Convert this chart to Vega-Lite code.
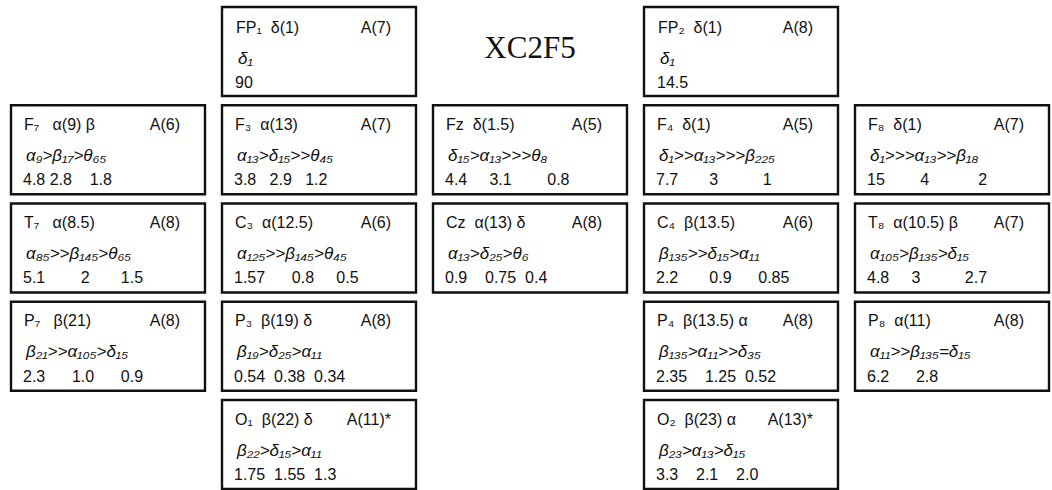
{
  "$schema": "https://vega.github.io/schema/vega-lite/v6.json",
  "width": 1052,
  "height": 490,
  "autosize": {"type": "fit", "contains": "padding"},
  "padding": 0,
  "config": {"view": {"stroke": null}},
  "datasets": {
    "boxes": [
      {"col": 1, "row": 0, "head": "FP₁\u00a0\u00a0δ(1)", "a": "A(7)", "formula": "δ₁", "vals": "90"},
      {"col": 3, "row": 0, "head": "FP₂\u00a0\u00a0δ(1)", "a": "A(8)", "formula": "δ₁", "vals": "14.5"},
      {"col": 0, "row": 1, "head": "F₇\u00a0\u00a0\u00a0α(9) β", "a": "A(6)", "formula": "α₉>β₁₇>θ₆₅", "vals": "4.8 2.8\u00a0\u00a0\u00a0\u00a01.8"},
      {"col": 1, "row": 1, "head": "F₃\u00a0\u00a0α(13)", "a": "A(7)", "formula": "α₁₃>δ₁₅>>θ₄₅", "vals": "3.8\u00a0\u00a0\u00a02.9\u00a0\u00a0\u00a01.2"},
      {"col": 2, "row": 1, "head": "Fz\u00a0\u00a0δ(1.5)", "a": "A(5)", "formula": "δ₁₅>α₁₃>>>θ₈", "vals": "4.4\u00a0\u00a0\u00a0\u00a0\u00a03.1\u00a0\u00a0\u00a0\u00a0\u00a0\u00a0\u00a0\u00a00.8"},
      {"col": 3, "row": 1, "head": "F₄\u00a0\u00a0δ(1)", "a": "A(5)", "formula": "δ₁>>α₁₃>>>β₂₂₅", "vals": "7.7\u00a0\u00a0\u00a0\u00a0\u00a0\u00a0\u00a03\u00a0\u00a0\u00a0\u00a0\u00a0\u00a0\u00a0\u00a0\u00a0\u00a01"},
      {"col": 4, "row": 1, "head": "F₈\u00a0\u00a0δ(1)", "a": "A(7)", "formula": "δ₁>>>α₁₃>>β₁₈", "vals": "15\u00a0\u00a0\u00a0\u00a0\u00a0\u00a0\u00a0\u00a04\u00a0\u00a0\u00a0\u00a0\u00a0\u00a0\u00a0\u00a0\u00a0\u00a0\u00a02"},
      {"col": 0, "row": 2, "head": "T₇\u00a0\u00a0\u00a0α(8.5)", "a": "A(8)", "formula": "α₈₅>>β₁₄₅>θ₆₅", "vals": "5.1\u00a0\u00a0\u00a0\u00a0\u00a0\u00a0\u00a0\u00a02\u00a0\u00a0\u00a0\u00a0\u00a0\u00a0\u00a01.5"},
      {"col": 1, "row": 2, "head": "C₃\u00a0\u00a0α(12.5)", "a": "A(6)", "formula": "α₁₂₅>>β₁₄₅>θ₄₅", "vals": "1.57\u00a0\u00a0\u00a0\u00a0\u00a0\u00a00.8\u00a0\u00a0\u00a0\u00a0\u00a00.5"},
      {"col": 2, "row": 2, "head": "Cz\u00a0\u00a0α(13) δ", "a": "A(8)", "formula": "α₁₃>δ₂₅>θ₆", "vals": "0.9\u00a0\u00a0\u00a0\u00a00.75\u00a0\u00a00.4"},
      {"col": 3, "row": 2, "head": "C₄\u00a0\u00a0β(13.5)", "a": "A(6)", "formula": "β₁₃₅>>δ₁₅>α₁₁", "vals": "2.2\u00a0\u00a0\u00a0\u00a0\u00a0\u00a0\u00a00.9\u00a0\u00a0\u00a0\u00a0\u00a0\u00a00.85"},
      {"col": 4, "row": 2, "head": "T₈\u00a0\u00a0α(10.5) β", "a": "A(7)", "formula": "α₁₀₅>β₁₃₅>δ₁₅", "vals": "4.8\u00a0\u00a0\u00a0\u00a0\u00a03\u00a0\u00a0\u00a0\u00a0\u00a0\u00a0\u00a0\u00a0\u00a0\u00a02.7"},
      {"col": 0, "row": 3, "head": "P₇\u00a0\u00a0\u00a0β(21)", "a": "A(8)", "formula": "β₂₁>>α₁₀₅>δ₁₅", "vals": "2.3\u00a0\u00a0\u00a0\u00a0\u00a0\u00a01.0\u00a0\u00a0\u00a0\u00a0\u00a0\u00a00.9"},
      {"col": 1, "row": 3, "head": "P₃\u00a0\u00a0β(19) δ", "a": "A(8)", "formula": "β₁₉>δ₂₅>α₁₁", "vals": "0.54\u00a0\u00a00.38\u00a0\u00a00.34"},
      {"col": 3, "row": 3, "head": "P₄\u00a0\u00a0β(13.5) α", "a": "A(8)", "formula": "β₁₃₅>α₁₁>>δ₃₅", "vals": "2.35\u00a0\u00a0\u00a0\u00a01.25\u00a0\u00a00.52"},
      {"col": 4, "row": 3, "head": "P₈\u00a0\u00a0α(11)", "a": "A(8)", "formula": "α₁₁>>β₁₃₅=δ₁₅", "vals": "6.2\u00a0\u00a0\u00a0\u00a0\u00a0\u00a02.8"},
      {"col": 1, "row": 4, "head": "O₁\u00a0\u00a0β(22) δ", "a": "A(11)*", "formula": "β₂₂>δ₁₅>α₁₁", "vals": "1.75\u00a0\u00a01.55\u00a0\u00a01.3"},
      {"col": 3, "row": 4, "head": "O₂\u00a0\u00a0β(23) α", "a": "A(13)*", "formula": "β₂₃>α₁₃>δ₁₅", "vals": "3.3\u00a0\u00a0\u00a0\u00a02.1\u00a0\u00a0\u00a0\u00a02.0"}
    ],
    "titles": [
      {"col": 2, "row": 0, "label": "XC2F5"}
    ]
  },
  "data": {"name": "boxes"},
  "encoding": {
    "x": {"field": "col", "type": "ordinal", "axis": null,
          "scale": {"domain": [0, 1, 2, 3, 4], "range": [11, 1049], "paddingInner": 0.0806, "paddingOuter": 0}},
    "y": {"field": "row", "type": "ordinal", "axis": null,
          "scale": {"domain": [0, 1, 2, 3, 4], "range": [7, 489], "paddingInner": 0.094, "paddingOuter": 0}}
  },
  "layer": [
    {
      "mark": {"type": "rect", "fill": "white", "stroke": "#111111", "strokeWidth": 2.4}
    },
    {
      "transform": [{"filter": "datum.row > 0"}],
      "mark": {"type": "text", "align": "left", "baseline": "middle", "dx": 13, "font": "Liberation Sans", "fontSize": 16, "color": "#111111"},
      "encoding": {
        "x": {"field": "col", "type": "ordinal", "bandPosition": 0},
        "y": {"field": "row", "type": "ordinal", "bandPosition": 0.22},
        "text": {"field": "head"}
      }
    },
    {
      "transform": [{"filter": "datum.row > 0"}],
      "mark": {"type": "text", "align": "right", "baseline": "middle", "dx": -25, "font": "Liberation Sans", "fontSize": 16, "color": "#111111"},
      "encoding": {
        "x": {"field": "col", "type": "ordinal", "bandPosition": 1},
        "y": {"field": "row", "type": "ordinal", "bandPosition": 0.22},
        "text": {"field": "a"}
      }
    },
    {
      "transform": [{"filter": "datum.row > 0"}],
      "mark": {"type": "text", "align": "left", "baseline": "middle", "dx": 15, "font": "Liberation Sans", "fontSize": 17, "fontStyle": "italic", "color": "#111111"},
      "encoding": {
        "x": {"field": "col", "type": "ordinal", "bandPosition": 0},
        "y": {"field": "row", "type": "ordinal", "bandPosition": 0.57},
        "text": {"field": "formula"}
      }
    },
    {
      "transform": [{"filter": "datum.row > 0"}],
      "mark": {"type": "text", "align": "left", "baseline": "middle", "dx": 12, "font": "Liberation Sans", "fontSize": 16, "color": "#111111"},
      "encoding": {
        "x": {"field": "col", "type": "ordinal", "bandPosition": 0},
        "y": {"field": "row", "type": "ordinal", "bandPosition": 0.84},
        "text": {"field": "vals"}
      }
    },
    {
      "transform": [{"filter": "datum.row == 0"}],
      "mark": {"type": "text", "align": "left", "baseline": "middle", "dx": 14, "font": "Liberation Sans", "fontSize": 16, "color": "#111111"},
      "encoding": {
        "x": {"field": "col", "type": "ordinal", "bandPosition": 0},
        "y": {"field": "row", "type": "ordinal", "bandPosition": 0.24},
        "text": {"field": "head"}
      }
    },
    {
      "transform": [{"filter": "datum.row == 0"}],
      "mark": {"type": "text", "align": "right", "baseline": "middle", "dx": -25, "font": "Liberation Sans", "fontSize": 16, "color": "#111111"},
      "encoding": {
        "x": {"field": "col", "type": "ordinal", "bandPosition": 1},
        "y": {"field": "row", "type": "ordinal", "bandPosition": 0.24},
        "text": {"field": "a"}
      }
    },
    {
      "transform": [{"filter": "datum.row == 0"}],
      "mark": {"type": "text", "align": "left", "baseline": "middle", "dx": 16, "font": "Liberation Sans", "fontSize": 17, "fontStyle": "italic", "color": "#111111"},
      "encoding": {
        "x": {"field": "col", "type": "ordinal", "bandPosition": 0},
        "y": {"field": "row", "type": "ordinal", "bandPosition": 0.58},
        "text": {"field": "formula"}
      }
    },
    {
      "transform": [{"filter": "datum.row == 0"}],
      "mark": {"type": "text", "align": "left", "baseline": "middle", "dx": 13, "font": "Liberation Sans", "fontSize": 16, "color": "#111111"},
      "encoding": {
        "x": {"field": "col", "type": "ordinal", "bandPosition": 0},
        "y": {"field": "row", "type": "ordinal", "bandPosition": 0.85},
        "text": {"field": "vals"}
      }
    },
    {
      "data": {"name": "titles"},
      "mark": {"type": "text", "align": "center", "baseline": "middle", "font": "Liberation Serif", "fontSize": 31, "color": "#111111"},
      "encoding": {
        "x": {"field": "col", "type": "ordinal", "bandPosition": 0.5},
        "y": {"field": "row", "type": "ordinal", "bandPosition": 0.47},
        "text": {"field": "label"}
      }
    }
  ]
}
